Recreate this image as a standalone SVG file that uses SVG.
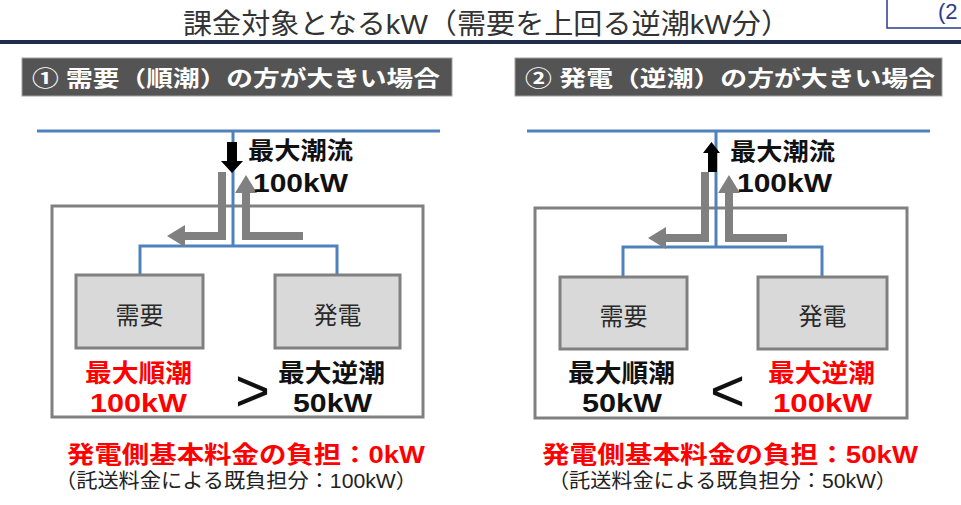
<svg xmlns="http://www.w3.org/2000/svg" width="961" height="505" viewBox="0 0 961 505">
<defs>
<style>
text{font-family:"Liberation Sans","Noto Sans CJK JP",sans-serif;}
.b{font-weight:bold;}
.red{fill:#ff0000;}
.blk{fill:#111;}
.hdrbox{fill:#545454;stroke:#a0a0a0;stroke-width:1;}
.hdr{fill:#ffffff;font-weight:bold;font-size:22px;}
.outer{fill:#ffffff;stroke:#808080;stroke-width:3;}
.node{fill:#d9d9d9;stroke:#808080;stroke-width:3;}
.ntext{fill:#2a2a2a;font-size:24px;text-anchor:middle;}
.blue{fill:none;stroke:#4f81bd;stroke-width:3;}
.gray{fill:none;stroke:#808080;stroke-width:8;stroke-linejoin:miter;}
.cmp{font-size:60px;fill:#111;}
.sub{font-size:20px;fill:#222;}
</style>
<marker id="gh" markerUnits="userSpaceOnUse" viewBox="0 0 18 22" refX="1" refY="11" markerWidth="18" markerHeight="22" orient="auto">
<path d="M0,0 L18,11 L0,22 Z" fill="#808080"/>
</marker>
</defs>
<rect width="961" height="505" fill="#ffffff"/>

<g id="title">
<text x="183" y="34" font-size="28" fill="#333" textLength="607" lengthAdjust="spacingAndGlyphs">課金対象となるkW（需要を上回る逆潮kW分）</text>
<rect x="887" y="-5" width="80" height="33" fill="#ffffff" stroke="#2e3a8c" stroke-width="1.5"/>
<text x="938" y="19" font-size="22" fill="#2e3a8c">(2</text>
<rect x="0" y="40" width="961" height="4" fill="#1f2d4a"/>
</g>

<!-- Left panel -->
<g id="header-left">
<rect class="hdrbox" x="22" y="58" width="430" height="38"/>
<text class="hdr" x="32" y="86" textLength="408" lengthAdjust="spacingAndGlyphs">① 需要（順潮）の方が大きい場合</text>
</g>
<g id="site-left">
<rect class="outer" x="52" y="206" width="371" height="211"/>
</g>
<g id="grid-left">
<line class="blue" x1="37" y1="131" x2="440" y2="131"/>
</g>
<g id="connectors-left">
<path class="blue" d="M233,131 V246 M140,275 V246 H337 V275"/>
<path class="gray" d="M222,172 V236 H184" marker-end="url(#gh)"/>
<path class="gray" d="M303,236 H246 V192" marker-end="url(#gh)"/>
<path d="M227,142 H237 V161 H243 L232,173 L221,161 H227 Z" fill="#000"/>
</g>
<g id="demand-left">
<rect class="node" x="76" y="275" width="127" height="73"/>
<text class="ntext" x="139.5" y="324">需要</text>
</g>
<g id="gen-left">
<rect class="node" x="275" y="275" width="125" height="73"/>
<text class="ntext" x="337.5" y="324">発電</text>
</g>
<g id="labels-left">
<text class="b blk" x="248" y="159" font-size="24" textLength="105" lengthAdjust="spacingAndGlyphs">最大潮流</text>
<text class="b blk" x="253" y="192" font-size="26" textLength="95" lengthAdjust="spacingAndGlyphs">100kW</text>
<text class="b red" x="85" y="382" font-size="25" textLength="107" lengthAdjust="spacingAndGlyphs">最大順潮</text>
<text class="b red" x="90" y="412" font-size="26" textLength="97" lengthAdjust="spacingAndGlyphs">100kW</text>
<text class="cmp" x="235" y="411">&gt;</text>
<text class="b blk" x="278" y="382" font-size="25" textLength="107" lengthAdjust="spacingAndGlyphs">最大逆潮</text>
<text class="b blk" x="293" y="412" font-size="26" textLength="79" lengthAdjust="spacingAndGlyphs">50kW</text>
<text class="b red" x="67" y="463" font-size="24" textLength="358" lengthAdjust="spacingAndGlyphs">発電側基本料金の負担：0kW</text>
<text class="sub" x="55" y="488" textLength="362" lengthAdjust="spacingAndGlyphs">（託送料金による既負担分：100kW）</text>
</g>

<!-- Right panel -->
<g id="header-right">
<rect class="hdrbox" x="515" y="58" width="427" height="38"/>
<text class="hdr" x="525" y="86" textLength="410" lengthAdjust="spacingAndGlyphs">② 発電（逆潮）の方が大きい場合</text>
</g>
<g id="site-right">
<rect class="outer" x="535" y="208" width="372" height="210"/>
</g>
<g id="grid-right">
<line class="blue" x1="527" y1="131" x2="930" y2="131"/>
</g>
<g id="connectors-right">
<path class="blue" d="M716,131 V247 M623,277 V247 H822 V277"/>
<path class="gray" d="M705,172 V238 H665" marker-end="url(#gh)"/>
<path class="gray" d="M787,238 H729 V192" marker-end="url(#gh)"/>
<path d="M708,172 V153 H703 L711.5,142 L720,153 H717 V172 Z" fill="#000"/>
</g>
<g id="demand-right">
<rect class="node" x="560" y="277" width="127" height="72"/>
<text class="ntext" x="623.5" y="325">需要</text>
</g>
<g id="gen-right">
<rect class="node" x="758" y="277" width="129" height="72"/>
<text class="ntext" x="822.5" y="325">発電</text>
</g>
<g id="labels-right">
<text class="b blk" x="730" y="160" font-size="24" textLength="105" lengthAdjust="spacingAndGlyphs">最大潮流</text>
<text class="b blk" x="737" y="192" font-size="26" textLength="95" lengthAdjust="spacingAndGlyphs">100kW</text>
<text class="b blk" x="568" y="382" font-size="25" textLength="107" lengthAdjust="spacingAndGlyphs">最大順潮</text>
<text class="b blk" x="582" y="412" font-size="26" textLength="80" lengthAdjust="spacingAndGlyphs">50kW</text>
<text class="cmp" x="710" y="411">&lt;</text>
<text class="b red" x="768" y="382" font-size="25" textLength="107" lengthAdjust="spacingAndGlyphs">最大逆潮</text>
<text class="b red" x="773" y="412" font-size="26" textLength="99" lengthAdjust="spacingAndGlyphs">100kW</text>
<text class="b red" x="542" y="463" font-size="24" textLength="376" lengthAdjust="spacingAndGlyphs">発電側基本料金の負担：50kW</text>
<text class="sub" x="548" y="488" textLength="349" lengthAdjust="spacingAndGlyphs">（託送料金による既負担分：50kW）</text>
</g>
</svg>
